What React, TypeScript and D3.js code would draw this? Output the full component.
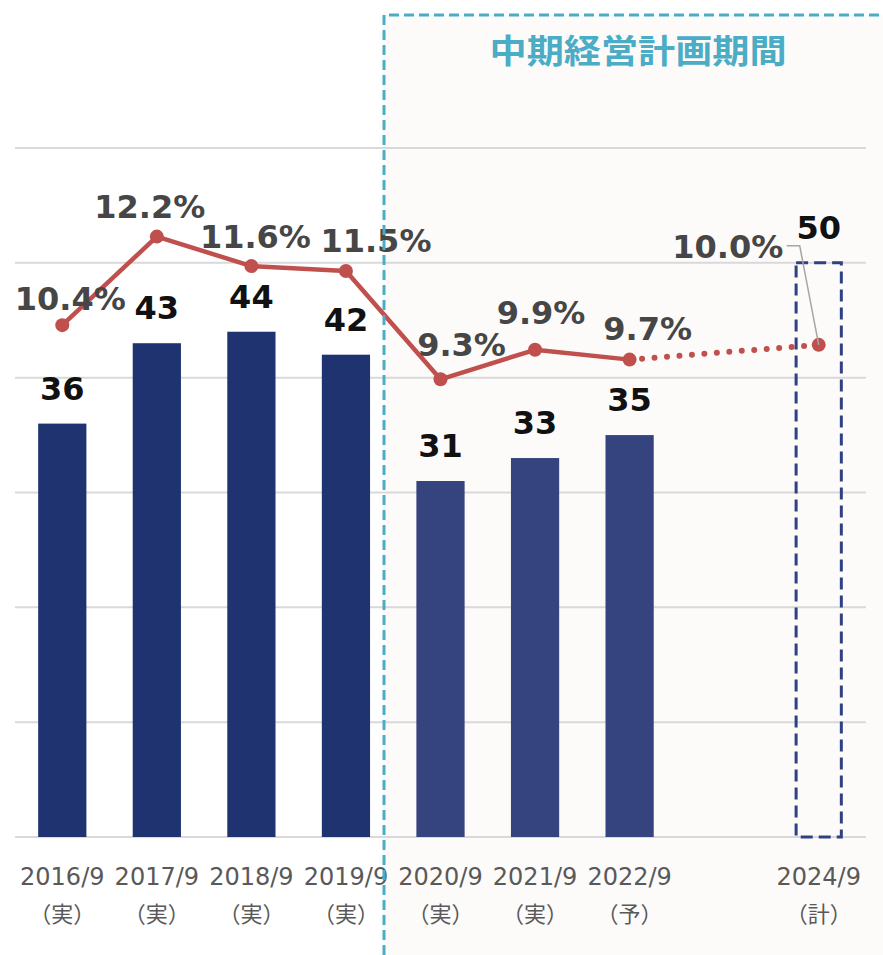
import React from "react";
import * as d3 from "d3";

const categories = ["2016/9", "2017/9", "2018/9", "2019/9", "2020/9", "2021/9", "2022/9", "2023/9", "2024/9"];
const subLabels = ["（実）", "（実）", "（実）", "（実）", "（実）", "（実）", "（予）", "", "（計）"];
const showCategory = [true, true, true, true, true, true, true, false, true];
const salesValues: (number | null)[] = [36, 43, 44, 42, 31, 33, 35, null, 50];
const planned = [false, false, false, false, false, false, false, false, true];
const marginValues: (number | null)[] = [10.4, 12.2, 11.6, 11.5, 9.3, 9.9, 9.7, null, 10.0];
const marginLabels = ["10.4%", "12.2%", "11.6%", "11.5%", "9.3%", "9.9%", "9.7%", "", "10.0%"];
const barTicks = [0, 10, 20, 30, 40, 50, 60];
const title = "中期経営計画期間";

// label offsets relative to the point (layout)
const pctOffsets: [number, number][] = [[8, -15], [-7, -19], [4, -18], [30, -19], [21, -23], [6, -26], [18, -20], [0, 0], [-91, -87]];

const W = 883, H = 955;
const X0 = 15, X1 = 866;
const Y0 = 837, Y1 = 148;

export default function App() {
  const x = d3.scaleBand<string>().domain(categories).range([X0, X1]).paddingInner(0.49).paddingOuter(0.245);
  const y = d3.scaleLinear().domain([0, 60]).range([Y0, Y1]);
  const yp = d3.scaleLinear().domain([0, 14]).range([Y0, Y1]);
  const cx = (c: string) => (x(c) as number) + x.bandwidth() / 2;

  const pts = categories
    .map((c, i) => ({ c, i, v: marginValues[i] }))
    .filter((d) => d.v !== null) as { c: string; i: number; v: number }[];
  const solidPts = pts.filter((d) => d.i <= 6);
  const dotPts = pts.filter((d) => d.i >= 6);
  const line = d3.line<{ c: string; v: number }>().x((d) => cx(d.c)).y((d) => yp(d.v));

  const shadeX = 384;
  const numFont = "'DejaVu Sans', Verdana, sans-serif";

  return (
    <svg width={W} height={H} style={{ position: "absolute", left: 0, top: 0, background: "#fff" }}>
      <rect x={0} y={0} width={W} height={H} fill="#ffffff" />
      <rect x={shadeX} y={15} width={W - shadeX} height={H - 15} fill="#fcfbfa" />
      {barTicks.map((t) => (
        <line key={t} x1={X0} x2={X1} y1={y(t)} y2={y(t)} stroke="#d9d9d9" strokeWidth={2} />
      ))}
      {categories.map((c, i) => {
        const v = salesValues[i];
        if (v === null) return null;
        if (planned[i]) {
          return (
            <rect key={c} x={(x(c) as number) + 1.5} y={y(v)} width={x.bandwidth() - 3} height={y(0) - y(v)}
              fill="none" stroke="#2f4185" strokeWidth={3} strokeDasharray="12 6" />
          );
        }
        return (
          <rect key={c} x={x(c)} y={y(v)} width={x.bandwidth()} height={y(0) - y(v)}
            fill={i < 4 ? "#1f3370" : "#35437e"} />
        );
      })}
      {categories.map((c, i) => {
        const v = salesValues[i];
        if (v === null) return null;
        return (
          <text key={"sv" + c} x={cx(c)} y={y(v) - 24} textAnchor="middle" fontFamily={numFont}
            fontWeight="bold" fontSize={32} fill="#111111">{v}</text>
        );
      })}
      <path d={line(solidPts) || ""} fill="none" stroke="#c0504d" strokeWidth={4.5} strokeLinejoin="round" />
      <path d={line(dotPts) || ""} fill="none" stroke="#c0504d" strokeWidth={6} strokeLinecap="round" strokeDasharray="0 12.5" />
      {pts.map((d) => (
        <circle key={"p" + d.c} cx={cx(d.c)} cy={yp(d.v)} r={7} fill="#c0504d" />
      ))}
      {pts.filter((d) => planned[d.i]).map((d) => (
        <polyline key={"ld" + d.c} points={`${cx(d.c) - 32},${yp(d.v) - 99} ${cx(d.c) - 19},${yp(d.v) - 99} ${cx(d.c)},${yp(d.v)}`}
          fill="none" stroke="#a6a6a6" strokeWidth={1.5} />
      ))}
      {pts.map((d) => (
        <text key={"pl" + d.c} x={cx(d.c) + pctOffsets[d.i][0]} y={yp(d.v) + pctOffsets[d.i][1]}
          textAnchor="middle" fontFamily={numFont} fontWeight="bold" fontSize={32} fill="#464646">
          {marginLabels[d.i]}
        </text>
      ))}
      {categories.map((c, i) =>
        showCategory[i] ? (
          <g key={"xl" + c}>
            <text x={cx(c)} y={885} textAnchor="middle" fontFamily={numFont} fontSize={24} fill="#595959">{c}</text>
            <text x={cx(c)} y={922} textAnchor="middle" fontFamily="'Noto Sans CJK JP', sans-serif" fontSize={22} fill="#595959">{subLabels[i]}</text>
          </g>
        ) : null
      )}
      <path d={`M${shadeX},${H} V15 H${W + 5}`} fill="none" stroke="#4bacc6" strokeWidth={3} strokeDasharray="10 5" />
      <text x={638} y={63} textAnchor="middle" fontFamily="'Noto Sans CJK JP', sans-serif" fontWeight="bold"
        fontSize={33} fill="#4bacc6" textLength={297} lengthAdjust="spacingAndGlyphs">{title}</text>
    </svg>
  );
}
